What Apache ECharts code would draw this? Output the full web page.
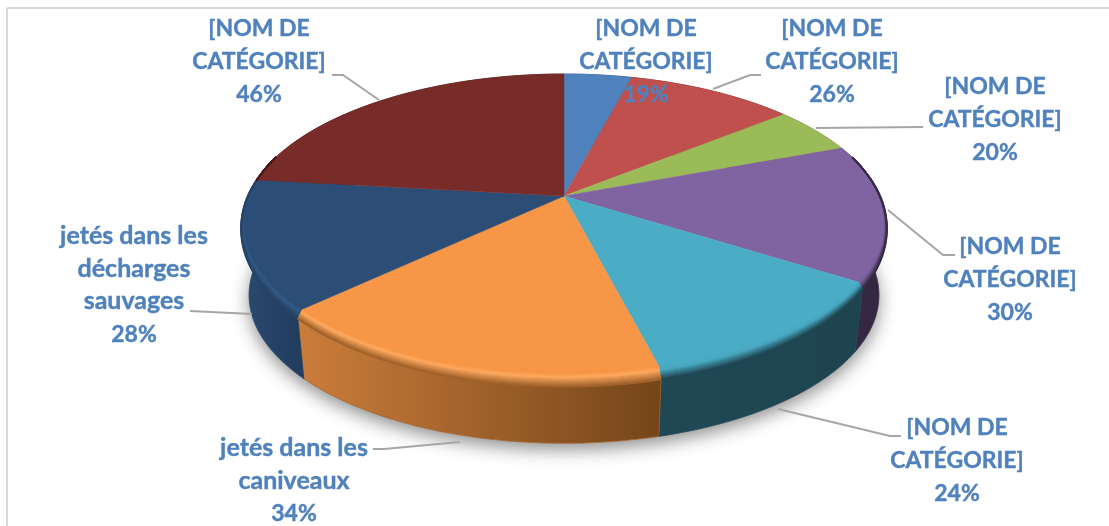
<!DOCTYPE html>
<html>
<head>
<meta charset="utf-8">
<title>Déchets</title>
<script src="https://cdn.jsdelivr.net/npm/echarts@6/dist/echarts.min.js"></script>
<style>
  html, body { margin: 0; padding: 0; background: #fff; }
  #chart { width: 1109px; height: 526px; }
</style>
</head>
<body>
<div id="chart"></div>
<script>
const sliceShares = [4.1, 10.1, 5.1, 14.7, 12, 17, 13.8, 23.2];
const sliceNames = [
  '[NOM DE\nCATÉGORIE]', '[NOM DE\nCATÉGORIE]', '[NOM DE\nCATÉGORIE]', '[NOM DE\nCATÉGORIE]',
  '[NOM DE\nCATÉGORIE]', 'jetés dans les\ncaniveaux', 'jetés dans les\ndécharges\nsauvages', '[NOM DE\nCATÉGORIE]'
];
const printedPercents = [19, 26, 20, 30, 24, 34, 28, 46];

// styles
const topColors = ['#4f81bd', '#c0504d', '#9bbb59', '#8064a2', '#4bacc6', '#f79646', '#2c4d75', '#772c2a'];
const rimColors = ['#4f81bd', '#c0504d', '#9bbb59', '#7a5f9b', '#48a6bf', '#fda95f', '#335a88', '#772c2a'];
const wallLeft = ['#2f4d71', '#73302e', '#5d7035', '#3a2c4a', '#1f4855', '#cb7d3b', '#2a4a70', '#471a19'];
const wallRight = ['#2f4d71', '#73302e', '#5d7035', '#32253d', '#1e4450', '#744519', '#213c5c', '#471a19'];

// label placement: centre x, y of first line
const labelPos = [[646, 29], [832, 29], [995, 87], [1010, 247], [957, 428], [294, 448], [134, 236], [259, 29]];
const leaders = [
  null,
  [[713, 89], [750, 75], [761, 75]],
  [[816, 128], [923, 127]],
  [[888, 210], [943, 255], [955, 255]],
  [[778, 409], [890, 436], [901, 436]],
  [[460, 442], [384, 449], [373, 449]],
  [[252, 314], [190, 311]],
  [[379, 100], [343, 75], [332, 75]]
];

// disc geometry (perspective view, apex is not the middle of the ellipse)
const cx = 564, cy = 196, persp = 0.197, radX = 316.7, radY = 146;
const depth = 70, bottomScale = 0.975;
const lineH = 32.7;

function topPt(pct, r, shift) {
  const t = pct / 100 * Math.PI * 2;
  const u = r * Math.sin(t), v = -r * Math.cos(t), w = 1 - persp * v;
  return [cx + radX * u / w, cy + radY * v / w + (shift || 0)];
}
function bottomPt(pct) {
  const t = pct / 100 * Math.PI * 2;
  const u = Math.sin(t), v = -Math.cos(t), w = 1 - persp * v;
  return [cx + bottomScale * radX * u / w, cy + depth + bottomScale * radY * v / w];
}
function steps(a, b) {
  const out = [], n = Math.max(2, Math.ceil((b - a) / 0.4));
  for (let i = 0; i <= n; i++) out.push(a + (b - a) * i / n);
  return out;
}
function hex(c) { return [1, 3, 5].map(i => parseInt(c.substr(i, 2), 16)); }
function mix(c1, c2, k) {
  const a = hex(c1), b = hex(c2);
  return 'rgb(' + a.map((x, i) => Math.round(x + (b[i] - x) * k)).join(',') + ')';
}
function rgbHex(c) {
  return '#' + c.match(/\d+/g).map(x => (+x).toString(16).padStart(2, '0')).join('');
}

let acc = 0;
const sliceRanges = sliceShares.map(function (s) {
  const r = [acc, acc + s];
  acc += s;
  return r;
});
const total = acc;

function renderSlice(params, api) {
  const i = params.dataIndex;
  const a = api.value(0) / total * 100, b = api.value(1) / total * 100;
  const pcts = steps(a, b);
  const children = [];
  const mid = rgbHex(mix(wallLeft[i], wallRight[i], 0.5));

  // wall
  const wall = pcts.map(p => topPt(p, 1)).concat(pcts.slice().reverse().map(bottomPt));
  children.push({
    type: 'polygon', z2: 1,
    shape: { points: wall },
    style: {
      fill: new echarts.graphic.LinearGradient(0, 0, 1, 0, [
        { offset: 0, color: wallLeft[i] }, { offset: 1, color: wallRight[i] }
      ]),
      stroke: mid, lineWidth: 0.8
    }
  });

  // top face
  const face = [[cx, cy]].concat(pcts.map(p => topPt(p, 1)));
  children.push({
    type: 'polygon', z2: 2,
    shape: { points: face },
    style: { fill: topColors[i], stroke: topColors[i], lineWidth: 0.5 }
  });

  // rounded rim: only the front of the disc shows it, fades out towards the back
  const front = pcts.filter(p => -Math.cos(p / 100 * Math.PI * 2) > -0.3);
  const levels = 14;
  for (let k = 0; front.length > 1 && k < levels; k++) {
    const s = k / (levels - 1);
    const pts = front.map(function (p) {
      const t = p / 100 * Math.PI * 2;
      const w = Math.max(0, (-Math.cos(t) + 0.3) / 1.3);
      return topPt(p, 1 - 0.02 * w * (1 - s), 9 * w * s);
    });
    const col = s < 0.3 ? mix(topColors[i], rimColors[i], s / 0.3)
      : mix(rimColors[i], mid, (s - 0.3) / 0.7);
    children.push({
      type: 'polyline', z2: 3,
      shape: { points: pts },
      style: { stroke: col, fill: null, lineWidth: 1.6 }
    });
  }

  // leader + label
  if (leaders[i]) {
    children.push({
      type: 'polyline', z2: 5,
      shape: { points: leaders[i] },
      style: { stroke: '#a6a6a6', fill: null, lineWidth: 2 }
    });
  }
  const lines = sliceNames[i].split('\n').concat(printedPercents[i] + '%');
  lines.forEach(function (txt, n) {
    // Lato lowercase runs narrower than the original face, so those lines get a bit more size
    const size = /[a-z]/.test(txt) ? 25 : 23;
    children.push({
      type: 'text', z2: 6,
      x: labelPos[i][0], y: labelPos[i][1] + n * lineH,
      style: {
        text: txt, fill: '#4f81bd', align: 'center', verticalAlign: 'middle',
        font: 'bold ' + size + 'px Lato, "Noto Sans", sans-serif',
        stroke: '#4f81bd', lineWidth: 0.4
      }
    });
  });
  return { type: 'group', children: children };
}

function renderShadow() {
  const pts = steps(0, 100).map(bottomPt);
  return {
    type: 'polygon',
    shape: { points: pts },
    style: { fill: '#fff', shadowBlur: 18, shadowColor: 'rgba(0,0,0,0.45)', shadowOffsetY: 6 }
  };
}

const myChart = echarts.init(document.getElementById('chart'), null, { renderer: 'canvas' });
myChart.setOption({
  animation: false,
  backgroundColor: '#fff',
  graphic: [
    { type: 'line', shape: { x1: 7, y1: 8, x2: 1109, y2: 8 }, style: { stroke: '#d9d9d9', lineWidth: 2 } },
    { type: 'line', shape: { x1: 7, y1: 8, x2: 7, y2: 526 }, style: { stroke: '#d9d9d9', lineWidth: 2 } }
  ],
  series: [
    { type: 'custom', coordinateSystem: 'none', z: 1, silent: true, renderItem: renderShadow, data: [[0]] },
    { type: 'custom', coordinateSystem: 'none', z: 2, silent: true, renderItem: renderSlice, data: sliceRanges }
  ]
});
</script>
</body>
</html>
